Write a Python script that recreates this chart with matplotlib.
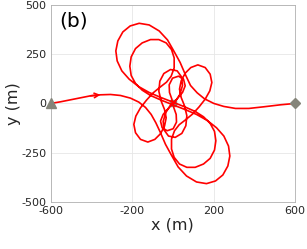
import matplotlib
matplotlib.use("Agg")
import matplotlib.pyplot as plt
import numpy as np

plt.rcParams['axes.unicode_minus'] = False

# trajectory (m)
traj_x = [-600, -551.7, -502.6, -453.5, -404.3, -355.2, -306.1, -257.0, -207.9, -167.0,
          -134.2, -106.4, -83.5, -60.6, -36.0, -8.2, 26.2, 67.1, 116.2, 165.3,
          209.5, 245.6, 270.1, 279.9, 273.4, 250.5, 214.4, 168.6, 116.2, 58.9,
          0, -57.3, -109.7, -150.6, -183.3, -204.6, -211.2, -204.6, -183.3, -150.6,
          -109.7, -68.8, -32.7, -6.5, 6.5, 6.5, -8.2, -31.1, -60.6, -96.6,
          -129.3, -158.8, -181.7, -191.5, -183.3, -158.8, -122.8, -88.4, -60.6, -40.9,
          -32.7, -40.9, -57.3, -68.8, -63.8, -44.2, -11.5, 21.3, 42.6, 47.5,
          34.4, 13.1, -19.6, -47.5, -60.6, -52.4, -27.8, 1.6, 18.0, 16.4,
          4.9, 0,
          -4.9, -16.4, -18.0, -1.6, 27.8, 52.4, 60.6, 47.5, 19.6, -13.1,
          -34.4, -47.5, -42.6, -21.3, 11.5, 44.2, 63.8, 68.8, 57.3, 40.9,
          32.7, 40.9, 60.6, 88.4, 122.8, 158.8, 183.3, 191.5, 181.7, 158.8,
          129.3, 96.6, 60.6, 31.1, 8.2, -6.5, -6.5, 6.5, 32.7, 68.8,
          109.7, 150.6, 183.3, 204.6, 211.2, 204.6, 183.3, 150.6, 109.7, 57.3,
          0, -58.9, -116.2, -168.6, -214.4, -250.5, -273.4, -279.9, -270.1, -245.6,
          -209.5, -165.3, -116.2, -67.1, -26.2, 8.2, 36.0, 60.6, 86.8, 119.5,
          155.5, 201.4, 250.5, 307.8, 373.2, 446.9, 528.8, 600]
traj_y = [0, 8.4, 18.6, 28.7, 38.8, 43.9, 45.6, 40.5, 27.0, 6.8,
          -20.3, -55.7, -98.0, -148.6, -207.7, -260.1, -322.6, -368.2, -398.6, -407.0,
          -393.5, -363.1, -317.5, -266.9, -216.2, -165.5, -123.3, -86.1, -55.7, -30.4,
          -6.8, 16.9, 40.5, 67.6, 101.3, 141.9, 189.2, 236.5, 278.7, 307.4,
          324.3, 324.3, 307.4, 273.6, 231.4, 180.7, 138.5, 108.1, 84.5, 54.0,
          16.9, -22.0, -64.2, -106.4, -148.6, -182.4, -195.9, -182.4, -153.7, -114.9,
          -72.6, -30.4, 11.8, 62.5, 113.2, 152.0, 172.3, 165.5, 135.1, 91.2,
          45.6, 11.8, -22.0, -55.7, -89.5, -123.3, -138.5, -128.4, -94.6, -55.7,
          -22.0, 0,
          22.0, 55.7, 94.6, 128.4, 138.5, 123.3, 89.5, 55.7, 22.0, -11.8,
          -45.6, -91.2, -135.1, -165.5, -172.3, -152.0, -113.2, -62.5, -11.8, 30.4,
          72.6, 114.9, 153.7, 182.4, 195.9, 182.4, 148.6, 106.4, 64.2, 22.0,
          -16.9, -54.0, -84.5, -108.1, -138.5, -180.7, -231.4, -273.6, -307.4, -324.3,
          -324.3, -307.4, -278.7, -236.5, -189.2, -141.9, -101.3, -67.6, -40.5, -16.9,
          6.8, 30.4, 55.7, 86.1, 123.3, 165.5, 216.2, 266.9, 317.5, 363.1,
          393.5, 407.0, 398.6, 368.2, 322.6, 260.1, 207.7, 148.6, 91.2, 54.0,
          23.6, 0, -15.2, -25.3, -25.3, -16.9, -6.8, 0]

start_pt = (-600, 0)
end_pt = (600, 0)
target_pt = (0, 0)
arrow_idx = 4

x_ticks = [-600, -200, 200, 600]
y_ticks = [-500, -250, 0, 250, 500]

fig = plt.figure(figsize=(3.07, 2.49), dpi=100)
ax = fig.add_axes([0.165, 0.189, 0.796, 0.791])

ax.plot(traj_x, traj_y, color='#ff0000', lw=1.2, zorder=3,
        solid_joinstyle='round', solid_capstyle='round')
ax.annotate('', xy=(traj_x[arrow_idx + 1], traj_y[arrow_idx + 1]),
            xytext=(traj_x[arrow_idx], traj_y[arrow_idx]),
            arrowprops=dict(arrowstyle='->', color='#ff0000', lw=1.2,
                            mutation_scale=8, shrinkA=0, shrinkB=0), zorder=4)

mcol = '#85857a'
ax.plot(*start_pt, marker='^', color=mcol, ms=7.5, zorder=5, clip_on=False)
ax.plot(*end_pt, marker='D', color=mcol, ms=5.5, zorder=5, clip_on=False)
ax.plot(*target_pt, marker='s', color=mcol, ms=4, zorder=2)

ax.set_xlim(-600, 600)
ax.set_ylim(-500, 500)
ax.set_xticks(x_ticks)
ax.set_yticks(y_ticks)
ax.grid(True, color='#e6e6e6', lw=0.6)
ax.set_axisbelow(True)
ax.tick_params(axis='both', length=0, labelsize=8, colors='#262626', pad=3)
for s in ax.spines.values():
    s.set_color('#b0b0b0')
    s.set_linewidth(0.6)

ax.set_xlabel('x (m)', fontsize=11.5, color='#262626', labelpad=1)
ax.set_ylabel('y (m)', fontsize=11.5, color='#262626', labelpad=0)
ax.text(0.035, 0.965, '(b)', transform=ax.transAxes, fontsize=14.5,
        va='top', ha='left', color='black')

fig.savefig('out.png', dpi=100)
